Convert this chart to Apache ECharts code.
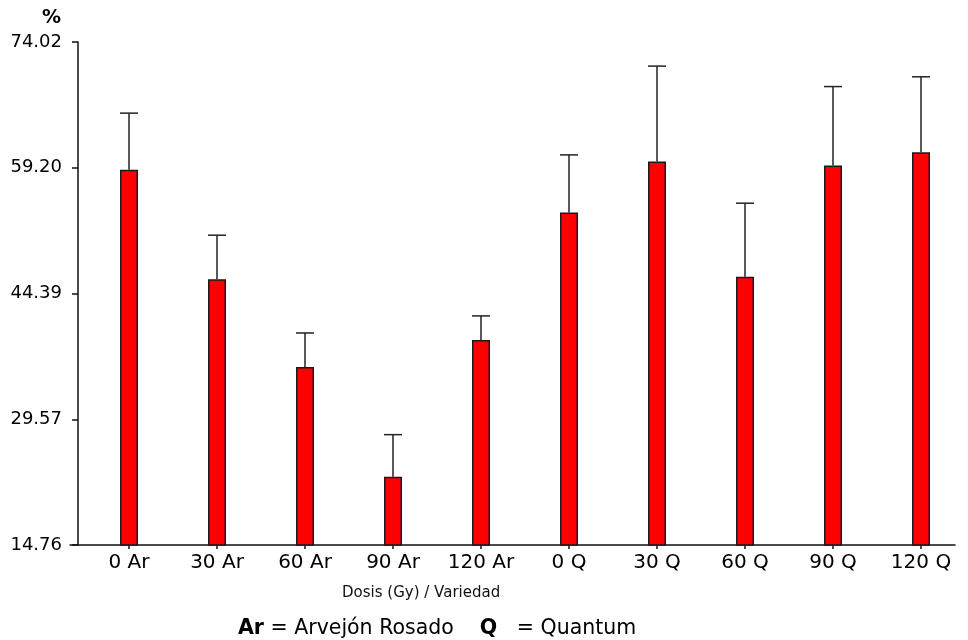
<!DOCTYPE html>
<html>
<head>
<meta charset="utf-8">
<script src="https://cdn.jsdelivr.net/npm/echarts@6/dist/echarts.min.js"></script>
<style>html,body{margin:0;padding:0;background:#fff}#c{width:968px;height:640px}</style>
</head>
<body>
<div id="c"></div>
<script>
var categories = ['0 Ar', '30 Ar', '60 Ar', '90 Ar', '120 Ar', '0 Q', '30 Q', '60 Q', '90 Q', '120 Q'];
var means = [58.96, 46.07, 35.74, 22.81, 38.92, 53.92, 59.93, 46.35, 59.46, 61.04];
var sds = [6.68, 5.19, 4.00, 4.95, 2.83, 6.80, 11.25, 8.68, 9.31, 8.88];
var yTickLabels = ['14.76', '29.57', '44.39', '59.20', '74.02'];
var yMin = 14.76, yMax = 74.02;

var FONT = 'DejaVu Sans';
var errData = means.map(function (m, i) { return [i, m, m + sds[i]]; });

var chart = echarts.init(document.getElementById('c'), null, { renderer: 'canvas' });
chart.setOption({
  animation: false,
  backgroundColor: '#ffffff',
  title: [
    {
      text: 'Dosis (Gy) / Variedad',
      left: 342, top: 586, padding: 0,
      textStyle: { fontFamily: FONT, fontSize: 15, fontWeight: 'normal', color: '#111' }
    },
    {
      text: '{b|Ar} = Arvejón Rosado    {b|Q}   = Quantum',
      left: 238, top: 618, padding: 0,
      textStyle: {
        fontFamily: FONT, fontSize: 20.5, fontWeight: 'normal', color: '#000',
        rich: { b: { fontFamily: FONT, fontSize: 20.5, fontWeight: 'bold', color: '#000' } }
      }
    }
  ],
  grid: [
    { left: 85, right: 3, top: 42, bottom: 95 },
    { left: 70, right: 13, top: 42, bottom: 95 }
  ],
  xAxis: [
    {
      type: 'category', gridIndex: 0, data: categories,
      axisLine: { show: false },
      axisTick: { show: true, alignWithLabel: true, length: 4, lineStyle: { color: '#111', width: 1.5 } },
      axisLabel: { margin: 8, fontFamily: FONT, fontSize: 20, color: '#000' },
      splitLine: { show: false }
    },
    {
      type: 'value', gridIndex: 1, min: 0, max: 1,
      axisLine: { show: true, lineStyle: { color: '#111', width: 1.5 } },
      axisTick: { show: false }, axisLabel: { show: false }, splitLine: { show: false }
    }
  ],
  yAxis: [
    {
      type: 'value', gridIndex: 0, min: yMin, max: yMax, interval: (yMax - yMin) / 4,
      offset: 7,
      name: '%', nameLocation: 'end', nameGap: 14,
      nameTextStyle: { fontFamily: FONT, fontSize: 19, fontWeight: 'bold', color: '#000', align: 'right', padding: [0, 17, 0, 0] },
      axisLine: { show: true, lineStyle: { color: '#111', width: 1.5 } },
      axisTick: { show: true, length: 6, lineStyle: { color: '#111', width: 1.5 } },
      axisLabel: {
        margin: 16, fontFamily: FONT, fontSize: 18, color: '#000',
        formatter: function (v, i) { return yTickLabels[i]; }
      },
      splitLine: { show: false }
    },
    { type: 'value', gridIndex: 1, min: 0, max: 1, show: false }
  ],
  series: [
    {
      type: 'bar', xAxisIndex: 0, yAxisIndex: 0, data: means, barWidth: 18, z: 2,
      itemStyle: { color: '#ff0000', borderColor: '#1a1a1a', borderWidth: 1.5 }
    },
    {
      type: 'custom', xAxisIndex: 0, yAxisIndex: 0, data: errData, z: 3,
      renderItem: function (params, api) {
        var x = api.value(0);
        var p0 = api.coord([x, api.value(1)]);
        var p1 = api.coord([x, api.value(2)]);
        var hw = 9;
        var style = { stroke: '#222', lineWidth: 1.5 };
        return {
          type: 'group',
          children: [
            { type: 'line', shape: { x1: p0[0], y1: p0[1], x2: p1[0], y2: p1[1] }, style: style },
            { type: 'line', shape: { x1: p1[0] - hw, y1: p1[1], x2: p1[0] + hw, y2: p1[1] }, style: style }
          ]
        };
      }
    }
  ]
});
</script>
</body>
</html>
